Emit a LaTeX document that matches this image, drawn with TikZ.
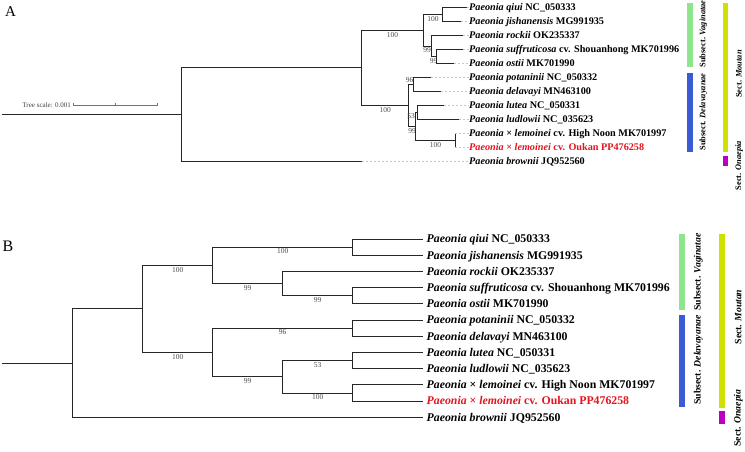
\documentclass[tikz,border=0pt]{standalone}
\usepackage{fontspec}
\setmainfont{Liberation Serif}

\definecolor{vagcol}{HTML}{8EE68C}
\definecolor{delcol}{HTML}{3B5BD5}
\definecolor{moucol}{HTML}{D0E000}
\definecolor{onacol}{HTML}{BA00BE}
\definecolor{oukred}{HTML}{E3141C}

\newcommand{\taxalist}{%
{\textit{Paeonia qiui} NC\_050333},%
{\textit{Paeonia jishanensis} MG991935},%
{\textit{Paeonia rockii} OK235337},%
{\textit{Paeonia suffruticosa} cv. Shouanhong MK701996},%
{\textit{Paeonia ostii} MK701990},%
{\textit{Paeonia potaninii} NC\_050332},%
{\textit{Paeonia delavayi} MN463100},%
{\textit{Paeonia lutea} NC\_050331},%
{\textit{Paeonia ludlowii} NC\_035623},%
{\textit{Paeonia} × \textit{lemoinei} cv. High Noon MK701997},%
{\color{oukred}\textit{Paeonia} × \textit{lemoinei} cv. Oukan PP476258},%
{\textit{Paeonia brownii} JQ952560}}

\begin{document}
\begin{tikzpicture}[x=1pt,y=-1pt,
    branch/.style={line width=0.8pt,black!85},
    leader/.style={black!22,line width=0.5pt,dash pattern=on 2pt off 2pt},
    boot/.style={inner sep=1.5pt,text=black!70,font=\fontsize{7.5}{7.5}\selectfont},
    taxA/.style={anchor=base west,inner sep=0pt,font=\fontsize{10.2}{10.2}\selectfont\bfseries},
    taxB/.style={anchor=base west,inner sep=0pt,font=\fontsize{11.8}{11.8}\selectfont\bfseries},
    cladeA/.style={rotate=90,inner sep=0pt,font=\fontsize{8.4}{8.4}\selectfont\bfseries},
    cladeB/.style={rotate=90,inner sep=0pt,font=\fontsize{9.7}{9.7}\selectfont\bfseries},
    panel/.style={inner sep=0pt,font=\fontsize{15}{15}\selectfont}]
\useasboundingbox (0,0) rectangle (745,452);

% Panel A: tree with branch lengths
\node[panel] (pA) at (10.5,11.5) {A};
\foreach \t [count=\i from 0] in \taxalist
  \node[taxA] (lA\i) at (469,{7.5+14*\i+3.4}) {\t};
\foreach \x [count=\i from 0] in {466.7,461,462.7,462.7,454.3,430.7,440.7,444.3,459.3,455.3,455.3,361.7}
  \coordinate (tA\i) at (\x,{7.5+14*\i});

\coordinate (a0) at (2,114.7);
\coordinate (a1) at (181.7,114.7);
\coordinate (a2) at (361.7,67.9);
\coordinate (a3) at (423.3,30.25);
\coordinate (a4) at (408.7,105.5);
\coordinate (a5) at (442.7,14.5);
\coordinate (a6) at (431,46);
\coordinate (a7) at (436,56.5);
\coordinate (a8) at (413.3,84.5);
\coordinate (a9) at (415.5,126.5);
\coordinate (a10) at (417,112.5);
\coordinate (a11) at (455.3,140.5);

\draw[branch] (a0) -- (a1);
\draw[branch] (a1) |- (a2);
\draw[branch] (a1) |- (tA11);
\draw[branch] (a2) |- node[boot,below,pos=.75] {100} (a3);
\draw[branch] (a2) |- node[boot,below,pos=.75] {100} (a4);
\draw[branch] (a3) |- node[boot,below,pos=.75] {100} (a5);
\draw[branch] (a3) |- node[boot,below,pos=.75] {99} (a6);
\draw[branch] (a5) |- (tA0);
\draw[branch] (a5) |- (tA1);
\draw[branch] (a6) |- (tA2);
\draw[branch] (a6) |- node[boot,below,pos=.75] {99} (a7);
\draw[branch] (a7) |- (tA3);
\draw[branch] (a7) |- (tA4);
\draw[branch] (a4) |- node[boot,above,pos=.6] {96} (a8);
\draw[branch] (a4) |- node[boot,below,pos=.75] {99} (a9);
\draw[branch] (a8) |- (tA5);
\draw[branch] (a8) |- (tA6);
\draw[branch] (a9) |- node[boot,below left,pos=.6,inner sep=0.5pt] {53} (a10);
\draw[branch] (a9) |- node[boot,below,pos=.75] {100} (a11);
\draw[branch] (a10) |- (tA7);
\draw[branch] (a10) |- (tA8);
\draw[branch] (a11) |- (tA9);
\draw[branch] (a11) |- (tA10);
\foreach \i in {0,...,11}
  \draw[leader] (tA\i) -- (tA\i -| lA\i.west);

% Tree scale
\node[anchor=east,inner sep=0pt,text=black!75,font=\fontsize{7}{7}\selectfont] (scl) at (71,105) {Tree scale: 0.001};
\coordinate (s0) at (73,105);
\coordinate (s1) at (157,105);
\draw[black!55,line width=0.7pt] (s0) -- (s1);
\foreach \p in {s0,s1}
  \draw[black!55,line width=0.5pt] (\p) ++(0,-1.5) -- ++(0,3);
\draw[black!55,line width=0.5pt] (115,103.5) -- (115,106.5);

% Clade bars A
\fill[vagcol] (687.3,2.7) rectangle (692.7,66.7);
\fill[delcol] (687.3,72.7) rectangle (692.7,151.7);
\fill[moucol] (722.7,2.7) rectangle (728,151.7);
\fill[onacol] (722.7,155.7) rectangle (728,166);
\node[cladeA] (vagA) at (703.3,34) {Subsect. \textit{Vaginatae}};
\node[cladeA] (delA) at (703.3,112) {Subsect. \textit{Delavayanae}};
\node[cladeA] (mouA) at (739,74) {Sect. \textit{Moutan}};
\node[cladeA] (onaA) at (739,165.6) {Sect. \textit{Onaepia}};

% Panel B: cladogram
\node[panel,font=\fontsize{16}{16}\selectfont] (pB) at (8,246.5) {B};
\foreach \t [count=\i from 0] in \taxalist
  \node[taxB] (lB\i) at (426.5,{239+16.2*\i+3.9}) {\t};
\foreach \i in {0,...,11}
  \coordinate (tB\i) at (422.7,{239+16.2*\i});

\coordinate (b0) at (2,363);
\coordinate (b1) at (72.3,363);
\coordinate (b2) at (142.7,308.85);
\coordinate (b3) at (212.7,265.3);
\coordinate (b4) at (212.7,352.4);
\coordinate (b5) at (352.7,247.1);
\coordinate (b6) at (282.7,283.55);
\coordinate (b7) at (352.7,295.7);
\coordinate (b8) at (352.7,328.1);
\coordinate (b9) at (282.7,376.7);
\coordinate (b10) at (352.7,360.5);
\coordinate (b11) at (352.7,392.9);

\draw[branch] (b0) -- (b1);
\draw[branch] (b1) |- (b2);
\draw[branch] (b1) |- (tB11);
\draw[branch] (b2) |- node[boot,below,pos=.75] {100} (b3);
\draw[branch] (b2) |- node[boot,below,pos=.75] {100} (b4);
\draw[branch] (b3) |- node[boot,below,pos=.75] {100} (b5);
\draw[branch] (b3) |- node[boot,below,pos=.75] {99} (b6);
\draw[branch] (b6) |- node[boot,below,pos=.75] {99} (b7);
\draw[branch] (b4) |- node[boot,below,pos=.75] {96} (b8);
\draw[branch] (b4) |- node[boot,below,pos=.75] {99} (b9);
\draw[branch] (b9) |- node[boot,below,pos=.75] {53} (b10);
\draw[branch] (b9) |- node[boot,below,pos=.75] {100} (b11);
\draw[branch] (b5) |- (tB0);
\draw[branch] (b5) |- (tB1);
\draw[branch] (b6) |- (tB2);
\draw[branch] (b7) |- (tB3);
\draw[branch] (b7) |- (tB4);
\draw[branch] (b8) |- (tB5);
\draw[branch] (b8) |- (tB6);
\draw[branch] (b10) |- (tB7);
\draw[branch] (b10) |- (tB8);
\draw[branch] (b11) |- (tB9);
\draw[branch] (b11) |- (tB10);

% Clade bars B
\fill[vagcol] (679.3,234) rectangle (684.7,310);
\fill[delcol] (679.3,315) rectangle (684.7,406.7);
\fill[moucol] (719.3,234) rectangle (725.3,407.7);
\fill[onacol] (719.3,411) rectangle (725.3,424);
\node[cladeB] (vagB) at (698.3,272) {Subsect. \textit{Vaginatae}};
\node[cladeB] (delB) at (698.3,360) {Subsect. \textit{Delavayanae}};
\node[cladeB] (mouB) at (738.3,317) {Sect. \textit{Moutan}};
\node[cladeB] (onaB) at (738.3,418) {Sect. \textit{Onaepia}};
\end{tikzpicture}
\end{document}
